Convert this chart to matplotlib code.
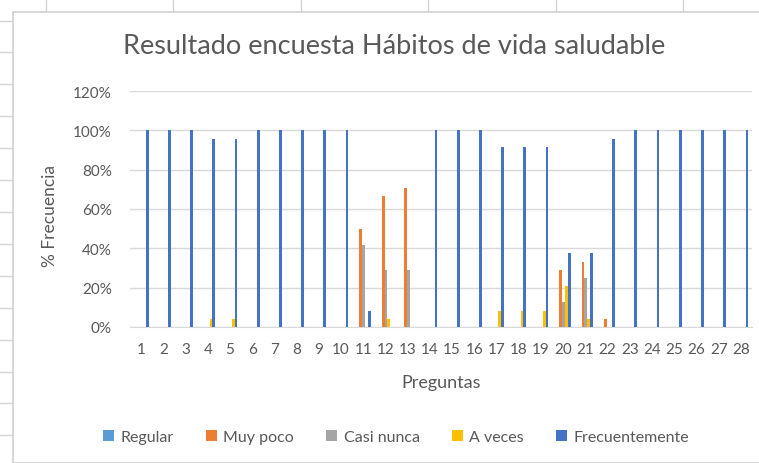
# IMPORT PACKAGES
import numpy as np
import matplotlib
matplotlib.use('Agg')
import matplotlib.pyplot as plt
from matplotlib.lines import Line2D
from matplotlib.patches import Rectangle
from matplotlib.ticker import PercentFormatter

plt.rcParams['font.family'] = ['Lato', 'DejaVu Sans']

# DATA (% of answers per question)
preguntas = [str(i) for i in range(1, 29)]
series = ['Regular', 'Muy poco', 'Casi nunca', 'A veces', 'Frecuentemente']
colores = ['#5B9BD5', '#ED7D31', '#A5A5A5', '#FFC000', '#4472C4']

regular = [0]*28
muy_poco = [0, 0, 0, 0, 0, 0, 0, 0, 0, 0, 50, 66.7, 70.8, 0, 0, 0, 0, 0, 0, 29.2, 33.3, 4.2, 0, 0, 0, 0, 0, 0]
casi_nunca = [0, 0, 0, 0, 0, 0, 0, 0, 0, 0, 41.7, 29.2, 29.2, 0, 0, 0, 0, 0, 0, 12.5, 25, 0, 0, 0, 0, 0, 0, 0]
a_veces = [0, 0, 0, 4.2, 4.2, 0, 0, 0, 0, 0, 0, 4.2, 0, 0, 0, 0, 8.3, 8.3, 8.3, 20.8, 4.2, 0, 0, 0, 0, 0, 0, 0]
frecuentemente = [100, 100, 100, 95.8, 95.8, 100, 100, 100, 100, 100, 8.3, 0, 0, 100, 100, 100, 91.7, 91.7, 91.7, 37.5, 37.5, 95.8, 100, 100, 100, 100, 100, 100]
valores = [regular, muy_poco, casi_nunca, a_veces, frecuentemente]

# FIGURE
W, H = 759, 464
fig = plt.figure(figsize=(W/100, H/100), dpi=100)

# spreadsheet cells behind the chart
for xc in [46, 173, 301, 428, 556, 683]:
    fig.add_artist(Line2D([xc/W, xc/W], [1, 1 - 13/H], color='#d4d4d4', lw=1, zorder=-2))
for yc in [22, 53, 85, 117, 149, 181, 213, 245, 277, 309, 341, 373, 404, 436]:
    fig.add_artist(Line2D([0, 13/W], [1 - yc/H, 1 - yc/H], color='#d4d4d4', lw=1, zorder=-2))
fig.add_artist(Rectangle((13/W, 0), 1, 1 - 13/H, transform=fig.transFigure,
                         facecolor='white', edgecolor='#d0d0d0', lw=1.2, zorder=-1))

ax = fig.add_axes([130/W, 1 - 328/H, (752 - 130)/W, (328 - 92)/H])
ax.set_facecolor('none')
ax.set_zorder(2)

x = np.arange(len(preguntas))
bw = 0.126
for i, (nombre, vals, c) in enumerate(zip(series, valores, colores)):
    ax.bar(x + (i - 2)*bw + 0.02, vals, width=bw, color=c, label=nombre, zorder=3)

ax.set_xlim(-0.5, len(preguntas) - 0.5)
ax.set_ylim(0, 120)
ax.set_yticks(np.arange(0, 121, 20))
ax.yaxis.set_major_formatter(PercentFormatter(decimals=0))
ax.set_xticks(x)
ax.set_xticklabels(preguntas)
ax.grid(axis='y', color='#d9d9d9', lw=1, zorder=0)
for s in ['top', 'right', 'left']:
    ax.spines[s].set_visible(False)
ax.spines['bottom'].set_color('#d9d9d9')
ax.tick_params(length=0, colors='#595959', labelsize=11)
ax.tick_params(axis='x', pad=11)
ax.tick_params(axis='y', pad=13)

fig.text(394/W, 1 - 46/H, 'Resultado encuesta Hábitos de vida saludable',
         ha='center', va='center', fontsize=19.5, color='#595959')
fig.text(441/W, 1 - 383/H, 'Preguntas', ha='center', va='center', fontsize=13, color='#595959')
fig.text(50/W, 1 - 216/H, '% Frecuencia', ha='center', va='center', rotation=90,
         fontsize=12.5, color='#595959')

ax.legend(loc='center', bbox_to_anchor=(396/W, 1 - 438/H), bbox_transform=fig.transFigure,
          ncol=5, frameon=False, fontsize=11.5, labelcolor='#595959',
          handlelength=0.7, handleheight=0.7, handletextpad=0.4, columnspacing=2.0)

fig.savefig('out.png', dpi=100)
